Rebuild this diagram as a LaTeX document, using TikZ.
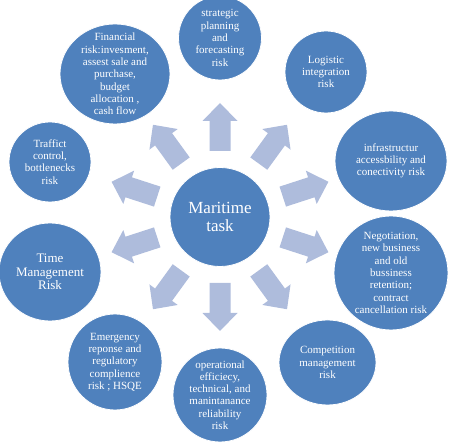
\documentclass[tikz,border=0pt]{standalone}
\usepackage{fontspec}
\setmainfont{Liberation Serif}
\usetikzlibrary{shapes.geometric,calc}
\definecolor{circblue}{HTML}{4F81BD}
\definecolor{arrblue}{HTML}{AEBCDC}
\tikzset{
  bubble/.style={ellipse, fill=circblue, draw=white, line width=0.8pt, inner sep=0pt},
  txt/.style={text=white, align=center, inner sep=0pt, font={\fontsize{11}{12.3}\selectfont}},
  bigtxt/.style={text=white, align=center, inner sep=0pt, font={\fontsize{13}{13.7}\selectfont}},
  centtxt/.style={text=white, align=center, inner sep=0pt, font={\fontsize{17}{17.7}\selectfont}},
  blockarrow/.style={fill=arrblue, draw=none}
}
\begin{document}
\begin{tikzpicture}[x=1pt,y=1pt]
\useasboundingbox (0,0) rectangle (450,442);
% centre
\node[bubble, minimum width=100pt, minimum height=99pt,
  label={[centtxt]center:{Maritime\\task}}] (mt) at (220,225) {};
% block arrows
\foreach \k in {0,...,9}{
  \pgfmathsetmacro{\ang}{90-36*\k}
  \begin{scope}[shift={(mt.center)}, rotate=\ang]
    \fill[blockarrow] (66,-10.5) -- (96,-10.5) -- (96,-17.5) -- (114,0)
      -- (96,17.5) -- (96,10.5) -- (66,10.5) -- cycle;
  \end{scope}
}
% outer bubbles
\node[bubble, minimum width=83pt, minimum height=84pt,
  label={[txt]center:{strategic\\planning\\and\\forecasting\\risk}}] (sp) at (220,404) {};
\node[bubble, minimum width=82pt, minimum height=82pt,
  label={[txt]center:{Logistic\\integration\\risk}}] (li) at (326,370) {};
\node[bubble, minimum width=112pt, minimum height=100pt,
  label={[txt]center:{infrastructur\\accessbility and\\conectivity risk}}] (ia) at (391,281) {};
\node[bubble, minimum width=114pt, minimum height=114pt,
  label={[txt]center:{Negotiation,\\new business\\and old\\bussiness\\retention;\\contract\\cancellation risk}}] (ng) at (391,169) {};
\node[bubble, minimum width=97pt, minimum height=85pt,
  label={[txt]center:{Competition\\management\\risk}}] (cm) at (327.5,79.5) {};
\node[bubble, minimum width=94pt, minimum height=94pt,
  label={[txt]center:{operational\\efficiecy,\\technical, and\\manintanance\\reliability\\risk}}] (op) at (220,47) {};
\node[bubble, minimum width=94pt, minimum height=96pt,
  label={[txt]center:{Emergency\\reponse and\\regulatory\\complience\\risk ; HSQE}}] (em) at (115,80) {};
\node[bubble, minimum width=102pt, minimum height=98pt,
  label={[bigtxt]center:{Time\\Management\\Risk}}] (tm) at (50,170) {};
\node[bubble, minimum width=82pt, minimum height=80pt,
  label={[txt]center:{Traffict\\control,\\bottlenecks\\risk}}] (tc) at (50,280) {};
\node[bubble, minimum width=110pt, minimum height=100pt,
  label={[txt]center:{Financial\\risk:invesment,\\assest sale and\\purchase,\\budget\\allocation ,\\cash flow}}] (fr) at (115,368) {};
\end{tikzpicture}
\end{document}
